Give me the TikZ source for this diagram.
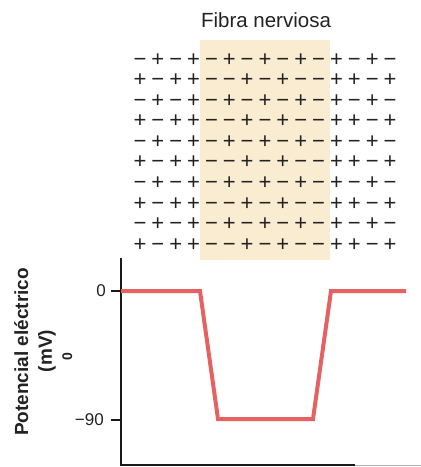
\documentclass[tikz,border=0pt]{standalone}
\usepackage{fontspec}
\setmainfont{Liberation Sans}
\definecolor{hilite}{RGB}{250,236,209}
\definecolor{signcol}{RGB}{34,34,34}
\definecolor{axiscol}{RGB}{25,25,25}
\definecolor{curvecol}{RGB}{228,98,98}
\newcommand\patA{1/−,2/+,3/−,4/+,5/−,6/+,7/−,8/+,9/−,10/+,11/−,12/+,13/−,14/+,15/−}
\newcommand\patB{1/+,2/−,3/+,4/+,5/−,6/−,7/+,8/−,9/+,10/−,11/−,12/+,13/+,14/−,15/+}
\begin{document}
\begin{tikzpicture}[x=1pt,y=-1pt,
  signnode/.style={anchor=base, inner sep=0pt, text=signcol, font=\fontsize{22}{22}\selectfont},
  ticklabel/.style={anchor=east, inner sep=0pt, text=signcol, font=\fontsize{17}{17}\selectfont},
  ylab/.style={anchor=base, rotate=90, inner sep=0pt, text=signcol, font=\bfseries\fontsize{19}{19}\selectfont},
  axisline/.style={draw=axiscol, line width=2pt},
  curve/.style={draw=curvecol, line width=4pt}]
\useasboundingbox (0,0) rectangle (421,467);
% highlighted region of the fibre
\fill[hilite] (200,40) rectangle (330,260);
% title
\node[anchor=base, inner sep=0pt, text=signcol, font=\fontsize{20.5}{20.5}\selectfont] (title) at (266,27) {Fibra nerviosa};
% charges
\foreach \r in {1,3,5,7,9}
  \foreach \c/\s in \patA
    \node[signnode] (s-\r-\c) at ({140+17.86*(\c-1)},{66.2+20.55*(\r-1)}) {\s};
\foreach \r in {2,4,6,8,10}
  \foreach \c/\s in \patB
    \node[signnode] (s-\r-\c) at ({140+17.86*(\c-1)},{66.2+20.55*(\r-1)}) {\s};
% axes
\coordinate (ytop) at (121,258);
\coordinate (orig) at (121,465);
\coordinate (xend) at (355,465);
\coordinate (xend2) at (421,465);
\draw[axisline] (ytop) -- (orig) -- (xend);
\draw[draw=gray!60, line width=1pt] (xend) -- (xend2);
% ticks
\coordinate (t0a) at (111,291);
\coordinate (t0b) at (121,291);
\coordinate (t90a) at (111,420);
\coordinate (t90b) at (121,420);
\draw[axisline] (t0a) -- (t0b);
\draw[axisline] (t90a) -- (t90b);
\node[ticklabel] (l0) at (106,291) {0};
\node[ticklabel] (l90) at (104,420) {−90};
% y label
\node[ylab] (yl1) at (28,352) {Potencial eléctrico};
\node[ylab] (yl2) at (52,351) {(mV)};
\node[ylab, font=\bfseries\fontsize{14}{14}\selectfont] (yl3) at (72,357) {0};
% potential curve
\coordinate (c1) at (121,291);
\coordinate (c2) at (200,291);
\coordinate (c3) at (218,419);
\coordinate (c4) at (313,419);
\coordinate (c5) at (331,291);
\coordinate (c6) at (406,291);
\draw[curve] (c1) -- (c2) -- (c3) -- (c4) -- (c5) -- (c6);
\end{tikzpicture}
\end{document}
